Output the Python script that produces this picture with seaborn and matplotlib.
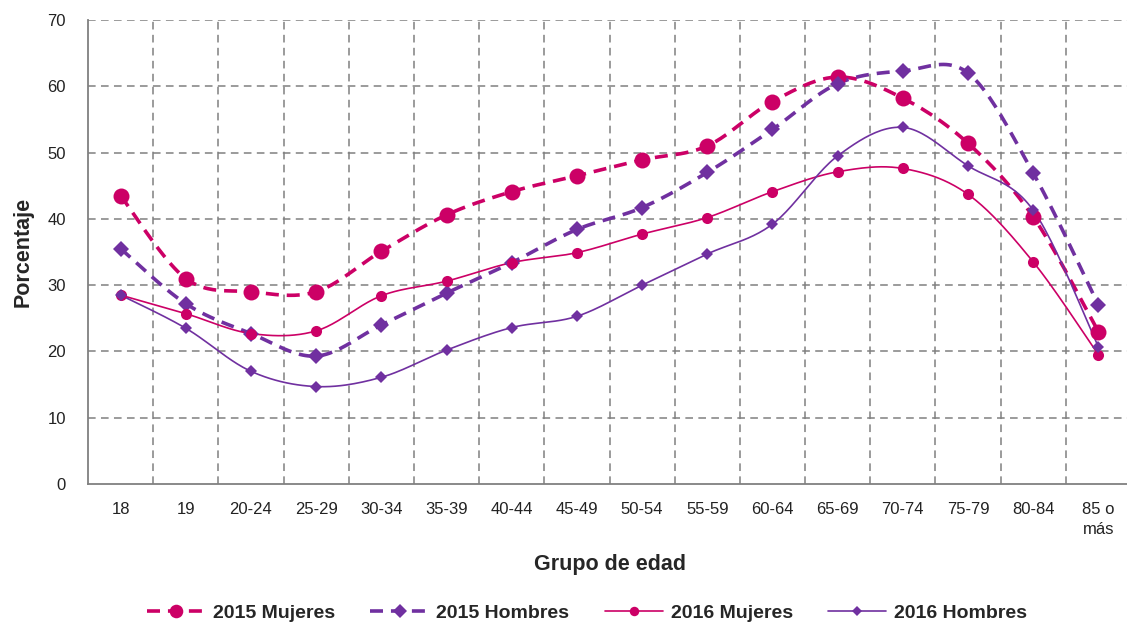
import numpy as np
import pandas as pd
import matplotlib
matplotlib.use("Agg")
import matplotlib.pyplot as plt
from matplotlib.lines import Line2D
import seaborn as sns

# --- datos ---
grupos = ["18", "19", "20-24", "25-29", "30-34", "35-39", "40-44", "45-49",
          "50-54", "55-59", "60-64", "65-69", "70-74", "75-79", "80-84", "85 o\nmás"]

mujeres_2015 = [43.5, 31.0, 29.0, 29.0, 35.1, 40.6, 44.1, 46.5,
                48.9, 51.0, 57.7, 61.4, 58.2, 51.4, 40.3, 23.0]
hombres_2015 = [35.5, 27.2, 22.7, 19.3, 24.0, 28.8, 33.4, 38.4,
                41.7, 47.0, 53.5, 60.4, 62.3, 62.0, 46.9, 27.0]
mujeres_2016 = [28.5, 25.7, 22.7, 23.1, 28.4, 30.6, 33.4, 34.9,
                37.7, 40.2, 44.1, 47.1, 47.6, 43.7, 33.5, 19.5]
hombres_2016 = [28.5, 23.5, 17.0, 14.7, 16.1, 20.2, 23.6, 25.3,
                30.0, 34.7, 39.2, 49.5, 53.8, 48.0, 41.3, 20.7]

series = ["2015 Mujeres", "2015 Hombres", "2016 Mujeres", "2016 Hombres"]
valores = [mujeres_2015, hombres_2015, mujeres_2016, hombres_2016]

MAGENTA = "#CC0066"
MORADO = "#7030A0"
GRIS = "#808080"

estilos = {
    "2015 Mujeres": dict(color=MAGENTA, ls=(0, (3.6, 2.2)), lw=2.6, marker="o", ms=11.5),
    "2015 Hombres": dict(color=MORADO, ls=(0, (3.6, 2.2)), lw=2.6, marker="D", ms=8),
    "2016 Mujeres": dict(color=MAGENTA, ls="-", lw=1.2, marker="o", ms=8),
    "2016 Hombres": dict(color=MORADO, ls="-", lw=1.2, marker="D", ms=6.5),
}


def curva_suave(x, y, n=24):
    # spline tipo Catmull-Rom (parecido al suavizado de Excel)
    p = np.column_stack([x, y]).astype(float)
    p = np.vstack([p[0], p, p[-1]])
    t = np.linspace(0, 1, n, endpoint=False)
    out = []
    for i in range(1, len(p) - 2):
        p0, p1, p2, p3 = p[i - 1], p[i], p[i + 1], p[i + 2]
        tt = t[:, None]
        seg = 0.5 * ((2 * p1) + (-p0 + p2) * tt
                     + (2 * p0 - 5 * p1 + 4 * p2 - p3) * tt ** 2
                     + (-p0 + 3 * p1 - 3 * p2 + p3) * tt ** 3)
        out.append(seg)
    out.append(p[-2][None, :])
    out = np.vstack(out)
    return out[:, 0], out[:, 1]


sns.set_style("white")
plt.rcParams["font.family"] = ["Liberation Sans", "DejaVu Sans"]

fig = plt.figure(figsize=(11.27, 6.27), dpi=100)
ax = fig.add_axes([88 / 1127, 1 - 484 / 627, 1043 / 1127, 464 / 627])

xpos = np.arange(len(grupos))

# rejilla discontinua
for yv in range(10, 71, 10):
    ax.axhline(yv, color=GRIS, lw=1.1, ls=(0, (5, 3.5)), zorder=0)
for xv in np.arange(0.5, len(grupos), 1.0):
    ax.axvline(xv, color=GRIS, lw=1.1, ls=(0, (5, 3.5)), zorder=0)

for nombre, vals in zip(series, valores):
    st = estilos[nombre]
    xs, ys = curva_suave(xpos, vals)
    sns.lineplot(x=xs, y=ys, ax=ax, color=st["color"], linewidth=st["lw"],
                 sort=False, estimator=None, zorder=3)
    ax.lines[-1].set_linestyle(st["ls"])
    ax.plot(xpos, vals, ls="none", marker=st["marker"], ms=st["ms"],
            color=st["color"], markeredgewidth=0, zorder=4)

ax.set_xlim(-0.5, len(grupos) - 0.5)
ax.set_ylim(0, 70)
ax.set_yticks(range(0, 71, 10))
ax.set_xticks(xpos)
ax.set_xticklabels(grupos, fontsize=12, color="#222222", linespacing=1.4)
ax.set_xticks(np.arange(-0.5, len(grupos), 1.0), minor=True)
ax.tick_params(axis="x", which="major", length=0, pad=13)
ax.tick_params(axis="x", which="minor", length=6, color=GRIS, width=1.1, direction="out")
ax.tick_params(axis="y", length=0, pad=16, labelsize=12, labelcolor="#222222")

for lado in ["top", "right"]:
    ax.spines[lado].set_visible(False)
for lado in ["left", "bottom"]:
    ax.spines[lado].set_color(GRIS)
    ax.spines[lado].set_linewidth(1.3)

ax.set_xlabel("Grupo de edad", fontsize=15.5, fontweight="bold", labelpad=12)
ax.set_ylabel("Porcentaje", fontsize=15.5, fontweight="bold", labelpad=10)

handles = []
for nombre in series:
    st = estilos[nombre]
    handles.append(Line2D([], [], color=st["color"], ls=st["ls"], lw=st["lw"],
                          marker=st["marker"], ms=st["ms"] * 0.85, markeredgewidth=0))
fig.legend(handles, series, loc="center", bbox_to_anchor=(587 / 1127, 1 - 613 / 627),
           ncol=4, frameon=False, handlelength=3.0, handletextpad=0.4,
           columnspacing=1.8, prop={"weight": "bold", "size": 14})

fig.savefig("out.png", dpi=100)
